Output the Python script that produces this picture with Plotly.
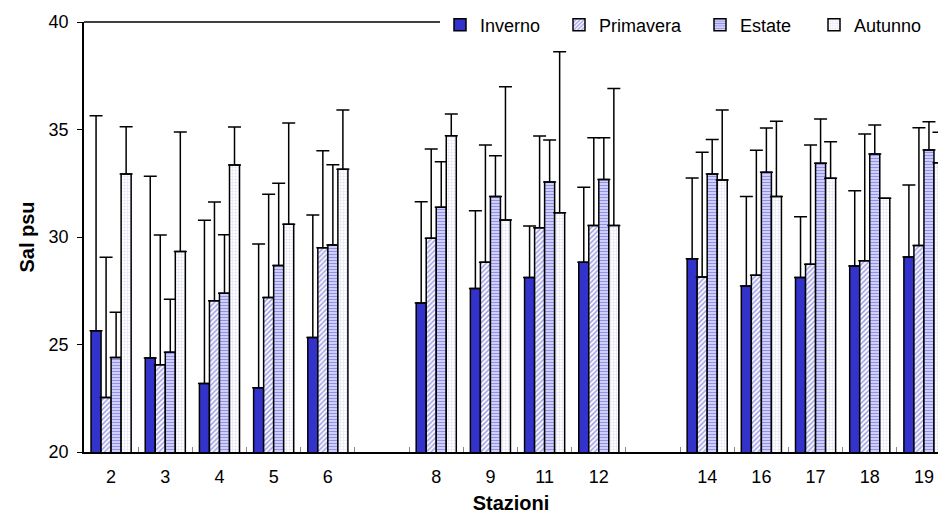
import plotly.graph_objects as go

# ---- data ----
stations = ["2", "3", "4", "5", "6", " ", "8", "9", "11", "12", "  ", "14", "16", "17", "18", "19"]

inverno    = [25.64, 24.37, 23.19, 22.99, 25.32, None, 26.93, 27.61, 28.12, 28.82, None, 28.99, 27.72, 28.12, 28.65, 29.07]
inverno_sd = [10.00, 8.45, 7.59, 6.68, 5.70, None, 4.71, 3.61, 2.39, 3.49, None, 3.75, 4.16, 2.82, 3.50, 3.35]

primavera    = [22.53, 24.06, 27.04, 27.19, 29.50, None, 29.94, 28.82, 30.43, 30.54, None, 28.14, 28.22, 28.73, 28.90, 29.60]
primavera_sd = [6.53, 6.03, 4.59, 4.80, 4.51, None, 4.15, 5.46, 4.27, 4.08, None, 5.80, 5.81, 5.55, 5.89, 5.48]

estate    = [24.40, 24.64, 27.38, 28.67, 29.63, None, 31.38, 31.88, 32.56, 32.68, None, 32.93, 33.01, 33.43, 33.86, 34.05]
estate_sd = [2.10, 2.46, 2.73, 3.83, 3.73, None, 2.12, 1.90, 1.95, 1.94, None, 1.60, 2.06, 2.06, 1.35, 1.31]

autunno    = [32.93, 29.32, 33.35, 30.59, 33.15, None, 34.71, 30.79, 31.13, 30.53, None, 32.65, 31.88, 32.73, 31.80, 33.45]
autunno_sd = [2.20, 5.56, 1.77, 4.71, 2.76, None, 1.01, 6.20, 7.49, 6.38, None, 3.26, 3.50, 1.70, 0.0, 1.42]

series_names = ["Inverno", "Primavera", "Estate", "Autunno"]
y_ticks = [20, 25, 30, 35, 40]

# ---- styling ----
BLUE = "#3333CC"
FONT = "Liberation Sans, Arial, sans-serif"

styles = [
    dict(color=BLUE, pattern=None),
    dict(color="white", pattern=dict(shape="/", fgcolor="#3a3ad0", bgcolor="white", size=3.5, solidity=0.45, fillmode="overlay")),
    dict(color="#E4E4FF", pattern=dict(shape="-", fgcolor="#3d3dd4", bgcolor="#E4E4FF", size=3, solidity=0.5, fillmode="overlay")),
    dict(color="white", pattern=dict(shape="+", fgcolor="#C4C4F2", bgcolor="white", size=3, solidity=0.35, fillmode="overlay")),
]

values = [inverno, primavera, estate, autunno]
errors = [inverno_sd, primavera_sd, estate_sd, autunno_sd]
legend_ids = ["legend", "legend2", "legend3", "legend4"]

fig = go.Figure()
for name, vals, errs, st, lid in zip(series_names, values, errors, styles, legend_ids):
    marker = dict(color=st["color"], line=dict(color="black", width=1.5))
    if st["pattern"] is not None:
        marker["pattern"] = st["pattern"]
    fig.add_trace(go.Bar(
        x=stations, y=vals, name=name, marker=marker,
        error_y=dict(type="data", symmetric=False, array=errs,
                     arrayminus=[0 if e is not None else None for e in errs],
                     color="black", thickness=1.5, width=6.5),
        legend=lid,
    ))

W, H = 938, 515
L, T, B = 84, 22, 63
plot_w = W - L
plot_h = H - T - B
cat_px = 54.19
x_hi = -0.5 + plot_w / cat_px

legend_common = dict(orientation="h", xref="paper", yref="paper",
                     yanchor="middle", xanchor="left", bgcolor="white",
                     font=dict(family=FONT, size=18, color="black"),
                     itemwidth=30, tracegroupgap=0)
legend_x = [440, 559, 700, 814]

layout_legends = {}
for lid, lx in zip(legend_ids, legend_x):
    layout_legends[lid] = dict(legend_common, x=(lx - L) / plot_w, y=1 - (25 - T) / plot_h)

fig.update_layout(
    width=W, height=H,
    margin=dict(l=L, r=0, t=T, b=B, autoexpand=False),
    paper_bgcolor="white", plot_bgcolor="white",
    barmode="group", bargap=0.26, bargroupgap=0,
    font=dict(family=FONT, size=18, color="black"),
    showlegend=True,
    **layout_legends,
    xaxis=dict(type="category", categoryorder="array", categoryarray=stations,
               range=[-0.5, x_hi], showline=True, linecolor="black", linewidth=1.5,
               ticks="inside", tickson="boundaries", ticklen=5, tickcolor="#888888",
               tickwidth=1, showgrid=False, zeroline=False, ticklabelstandoff=8,
               tickfont=dict(family=FONT, size=18),
               title=dict(text="<b>Stazioni</b>", font=dict(family=FONT, size=20), standoff=10)),
    yaxis=dict(range=[20, 40], tickvals=y_ticks, ticks="outside", ticklen=5,
               tickcolor="black", showline=True, linecolor="black", linewidth=1.5,
               showgrid=False, zeroline=False, ticklabelstandoff=5,
               tickfont=dict(family=FONT, size=18),
               title=dict(text="<b>Sal psu</b>", font=dict(family=FONT, size=20), standoff=9)),
    shapes=[dict(type="line", xref="paper", yref="paper", x0=0, x1=(440 - L) / plot_w,
                 y0=1, y1=1, line=dict(color="black", width=1.5))],
)

fig.write_html("out.html")
